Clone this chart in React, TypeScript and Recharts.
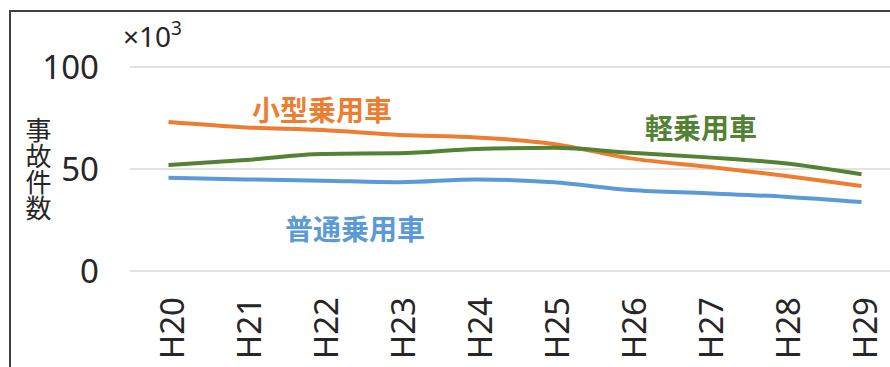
import { LineChart, Line, XAxis, YAxis, CartesianGrid } from 'recharts';

const years = ['H20', 'H21', 'H22', 'H23', 'H24', 'H25', 'H26', 'H27', 'H28', 'H29'];
const kogata = [73.0, 70.4, 69.1, 66.7, 65.5, 62.3, 55.2, 51.1, 46.7, 41.7];
const kei = [52.0, 54.4, 57.4, 57.7, 59.8, 60.4, 58.0, 55.7, 52.8, 47.4];
const futsu = [45.7, 44.9, 44.3, 43.5, 44.9, 43.5, 39.7, 38.1, 36.4, 33.8];
const yTicks = [0, 50, 100];

const FONT = '"Noto Sans", "Noto Sans CJK JP", sans-serif';
const CJK = '"Noto Sans CJK JP", sans-serif';
const ORANGE = '#ed7d31';
const GREEN = '#548235';
const BLUE = '#5b9bd5';
const TEXT = '#262626';

const rows = years.map((y, i) => ({
  year: y,
  kogata: kogata[i],
  kei: kei[i],
  futsu: futsu[i],
}));

function YearTick(props: any) {
  const { x, y, payload } = props;
  return (
    <g transform={`translate(${x},${y})`}>
      <text
        transform="rotate(-90)"
        x={0}
        y={15}
        textAnchor="end"
        fill={TEXT}
        style={{ fontFamily: FONT, fontSize: 33 }}
      >
        {payload.value}
      </text>
    </g>
  );
}

export default function App() {
  return (
    <div
      style={{
        position: 'absolute',
        left: 0,
        top: 0,
        width: 890,
        height: 367,
        overflow: 'hidden',
        background: '#fff',
      }}
    >
      {/* chart frame, right and bottom edges fall outside the picture */}
      <div
        style={{
          position: 'absolute',
          left: 9,
          top: 10,
          width: 950,
          height: 450,
          border: '2px solid #404040',
        }}
      />
      <div style={{ position: 'absolute', left: 0, top: 0 }}>
        <LineChart
          width={910}
          height={367}
          data={rows}
          margin={{ top: 67, right: 10, bottom: 0, left: 0 }}
        >
          <CartesianGrid vertical={false} stroke="#d9d9d9" strokeWidth={1.5} />
          <XAxis
            dataKey="year"
            height={96}
            axisLine={false}
            tickLine={false}
            tickSize={0}
            tickMargin={26}
            interval={0}
            padding={{ left: 38.5, right: 38.5 }}
            tick={<YearTick />}
          />
          <YAxis
            width={130}
            domain={[0, 100]}
            ticks={yTicks}
            axisLine={false}
            tickLine={false}
            tickSize={0}
            tickMargin={31}
            tick={{ fill: TEXT, fontSize: 33, fontFamily: FONT }}
          />
          <Line
            dataKey="kogata"
            stroke={ORANGE}
            strokeWidth={4}
            dot={false}
            type="monotone"
            isAnimationActive={false}
          />
          <Line
            dataKey="kei"
            stroke={GREEN}
            strokeWidth={4}
            dot={false}
            type="monotone"
            isAnimationActive={false}
          />
          <Line
            dataKey="futsu"
            stroke={BLUE}
            strokeWidth={4}
            dot={false}
            type="monotone"
            isAnimationActive={false}
          />
        </LineChart>
      </div>
      <svg
        width={890}
        height={367}
        style={{ position: 'absolute', left: 0, top: 0, pointerEvents: 'none' }}
      >
        <text x={123} y={47} fill={TEXT} style={{ fontFamily: FONT, fontSize: 28 }}>
          ×10
          <tspan dy={-12} style={{ fontSize: 19 }}>
            3
          </tspan>
        </text>
        <text
          x={38.5}
          y={117}
          fill={TEXT}
          style={{ fontFamily: CJK, fontSize: 26, writingMode: 'vertical-rl' }}
        >
          事故件数
        </text>
        <text
          x={322}
          y={109}
          textAnchor="middle"
          dominantBaseline="central"
          fill={ORANGE}
          style={{ fontFamily: CJK, fontSize: 28, fontWeight: 700 }}
        >
          小型乗用車
        </text>
        <text
          x={701}
          y={127}
          textAnchor="middle"
          dominantBaseline="central"
          fill={GREEN}
          style={{ fontFamily: CJK, fontSize: 28, fontWeight: 700 }}
        >
          軽乗用車
        </text>
        <text
          x={355}
          y={228}
          textAnchor="middle"
          dominantBaseline="central"
          fill={BLUE}
          style={{ fontFamily: CJK, fontSize: 28, fontWeight: 700 }}
        >
          普通乗用車
        </text>
      </svg>
    </div>
  );
}
